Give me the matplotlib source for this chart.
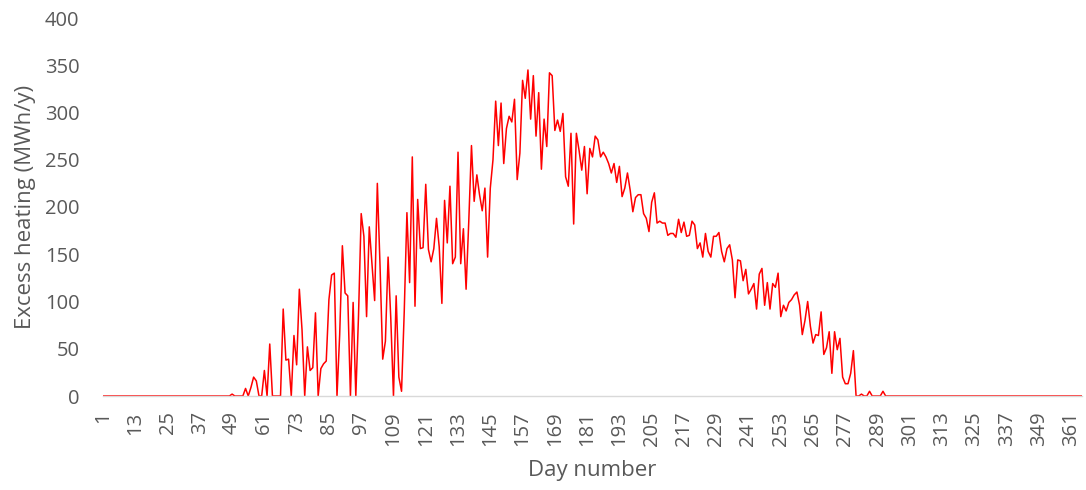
import numpy as np
import matplotlib.pyplot as plt

plt.rcParams['font.family'] = ['Open Sans', 'DejaVu Sans']

# excess heating per day (days 1..365)
days = np.arange(1, 366)
lead_zeros = [0] * 48  # days 1-48
active = [
    2, 0, 0, 0, 0, 8, 0, 9, 20, 16,            # 49-58
    0, 0, 27, 0, 55, 0, 0, 0, 0, 92,           # 59-68
    38, 39, 0, 64, 33, 113, 70, 0, 52, 27,     # 69-78
    30, 88, 0, 29, 34, 37, 102, 128, 130, 0,   # 79-88
    65, 159, 109, 106, 0, 99, 0, 85, 193, 169, # 89-98
    84, 179, 140, 101, 225, 138, 39, 58, 147, 82,   # 99-108
    0, 106, 20, 5, 89, 194, 120, 253, 95, 208,      # 109-118
    156, 157, 224, 155, 142, 156, 188, 158, 98, 207, # 119-128
    162, 222, 140, 147, 258, 140, 177, 113, 185, 265, # 129-138
    206, 234, 213, 196, 220, 147, 220, 250, 312, 265, # 139-148
    310, 246, 283, 296, 290, 314, 229, 257, 334, 315, # 149-158
    345, 293, 339, 275, 321, 240, 293, 264, 342, 339, # 159-168
    281, 292, 280, 299, 232, 222, 278, 182, 278, 260, # 169-178
    239, 264, 214, 262, 253, 275, 271, 253, 258, 253, # 179-188
    246, 236, 246, 226, 243, 211, 220, 236, 218, 195, # 189-198
    210, 213, 213, 193, 188, 174, 205, 215, 183, 185, # 199-208
    183, 183, 170, 172, 172, 168, 187, 173, 184, 169, # 209-218
    170, 185, 181, 156, 162, 147, 172, 153, 147, 169, # 219-228
    169, 173, 153, 142, 156, 160, 144, 104, 144, 143, # 229-238
    122, 134, 108, 113, 119, 92, 129, 135, 96, 120,   # 239-248
    92, 119, 115, 130, 84, 96, 90, 99, 102, 107,      # 249-258
    110, 96, 65, 80, 100, 74, 56, 65, 64, 89,         # 259-268
    44, 51, 68, 24, 68, 49, 61, 20, 13, 13,           # 269-278
    24, 48, 0, 0, 2, 0, 0, 5, 0, 0,                   # 279-288
    0, 0, 5,                                          # 289-291
]
excess = np.array(lead_zeros + active + [0] * (365 - 48 - len(active)), dtype=float)

tick_days = np.arange(1, 366, 12)

fig = plt.figure(figsize=(10.86, 4.9), dpi=100)
ax = fig.add_axes([103 / 1086, 94 / 490, 979 / 1086, 378 / 490])

ax.plot(days, excess, color='#ff0000', lw=1.1)

ax.set_xlim(1, 365)
ax.set_ylim(0, 400)
ax.set_yticks(np.arange(0, 401, 50))
ax.set_xticks(tick_days)
ax.set_xticklabels([str(d) for d in tick_days], rotation=90)

for s in ['top', 'right', 'left']:
    ax.spines[s].set_visible(False)
ax.spines['bottom'].set_color('#d9d9d9')
ax.spines['bottom'].set_linewidth(1.0)

ax.tick_params(axis='both', length=0, labelsize=14.5, colors='#595959')
ax.tick_params(axis='y', pad=17)
ax.tick_params(axis='x', pad=11)

ax.set_xlabel('Day number', fontsize=16, color='#595959', labelpad=10)
ax.set_ylabel('Excess heating (MWh/y)', fontsize=16, color='#595959', labelpad=6)

fig.savefig('out.png', dpi=100)
